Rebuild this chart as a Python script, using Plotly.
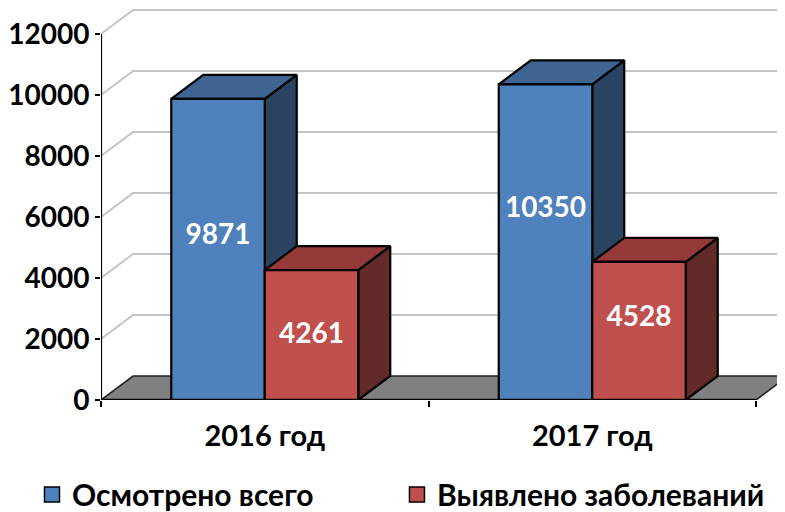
import plotly.graph_objects as go

categories = ["2016 год", "2017 год"]
series_names = ["Осмотрено всего", "Выявлено заболеваний"]
examined = [9871, 10350]
detected = [4261, 4528]
y_ticks = [0, 2000, 4000, 6000, 8000, 10000, 12000]
examined_label_y = [5345, 6230]
detected_label_y = [2100, 2645]

FONT = "Lato"
BAR_W = 0.2855
DX = 32 / 327.5
DY = 24 / 0.0305
BLUE = ("#4F81BD", "#3F6491", "#2A4361")
RED = ("#C0504D", "#953A38", "#622B29")
EDGE = "#000000"

fig = go.Figure()


def poly(xs, ys, fill, width=2.2, color=EDGE):
    fig.add_trace(go.Scatter(
        x=xs + [xs[0]], y=ys + [ys[0]], mode="lines", fill="toself", fillcolor=fill,
        line=dict(color=color, width=width), showlegend=False, hoverinfo="skip", cliponaxis=False))


# back wall gridlines
for v in y_ticks[1:]:
    fig.add_trace(go.Scatter(x=[0, DX, 3], y=[v, v + DY, v + DY], mode="lines",
                             line=dict(color="#C4C4C4", width=2), showlegend=False, hoverinfo="skip"))
# floor
poly([0, DX, 2 + DX, 2], [0, DY, DY, 0], "#808080", width=1.6, color="#222222")


def box(x0, v, colors):
    x1 = x0 + BAR_W
    poly([x1, x1 + DX, x1 + DX, x1], [0, DY, v + DY, v], colors[2])
    poly([x0, x0 + DX, x1 + DX, x1], [v, v + DY, v + DY, v], colors[1])
    poly([x0, x1, x1, x0], [0, 0, v, v], colors[0])


centres = [i + 0.5 for i in range(len(categories))]
for c, a, b in zip(centres, examined, detected):
    box(c - BAR_W, a, BLUE)
    box(c, b, RED)

# value labels
fig.add_trace(go.Scatter(
    x=[c - BAR_W / 2 for c in centres] + [c + BAR_W / 2 for c in centres],
    y=examined_label_y + detected_label_y, mode="text",
    text=[str(v) for v in examined + detected],
    textfont=dict(family=FONT, size=28, color="white", weight="bold"),
    showlegend=False, hoverinfo="skip"))

# axis lines
fig.add_trace(go.Scatter(x=[0, 0], y=[0, 12000], mode="lines", line=dict(color="black", width=2.2),
                         showlegend=False, hoverinfo="skip", cliponaxis=False))
fig.add_trace(go.Scatter(x=[0, 2], y=[0, 0], mode="lines", line=dict(color="black", width=2.6),
                         showlegend=False, hoverinfo="skip", cliponaxis=False))

# legend
for name, col, lg in zip(series_names, (BLUE[0], RED[0]), ("legend", "legend2")):
    fig.add_trace(go.Scatter(x=[None], y=[None], mode="markers", name=name, legend=lg,
                             marker=dict(symbol="square", size=15, color=col, line=dict(color="black", width=1.5))))

legend_style = dict(y=-0.241, xanchor="left", yanchor="middle",
                    font=dict(family=FONT, size=30, weight="bold"),
                    bgcolor="rgba(0,0,0,0)", itemclick=False, itemdoubleclick=False)

fig.update_layout(
    width=777, height=518, autosize=False,
    margin=dict(l=93, r=0, t=0, b=126),
    paper_bgcolor="white", plot_bgcolor="white",
    font=dict(family=FONT, color="black"),
    xaxis=dict(range=[0, 684 / 327.5], tickmode="array", tickvals=centres, ticktext=categories,
               ticks="", ticklabelstandoff=16, showgrid=False, zeroline=False, showline=False,
               tickfont=dict(family=FONT, size=29, weight="bold"),
               minor=dict(tickmode="array", tickvals=[0, 1, 2], ticks="outside", ticklen=6,
                          tickwidth=2, tickcolor="black", showgrid=False)),
    yaxis=dict(range=[0, 392 / 0.0305], tickmode="array", tickvals=y_ticks, ticktext=[str(v) for v in y_ticks],
               ticks="outside", ticklen=5, tickwidth=2, tickcolor="black", showgrid=False, zeroline=False,
               showline=False, tickfont=dict(family=FONT, size=28, weight="bold")),
    legend=dict(x=-0.1009, **legend_style),
    legend2=dict(x=0.4327, **legend_style),
    showlegend=True,
)

fig.write_html("out.html", config={"displayModeBar": False})
